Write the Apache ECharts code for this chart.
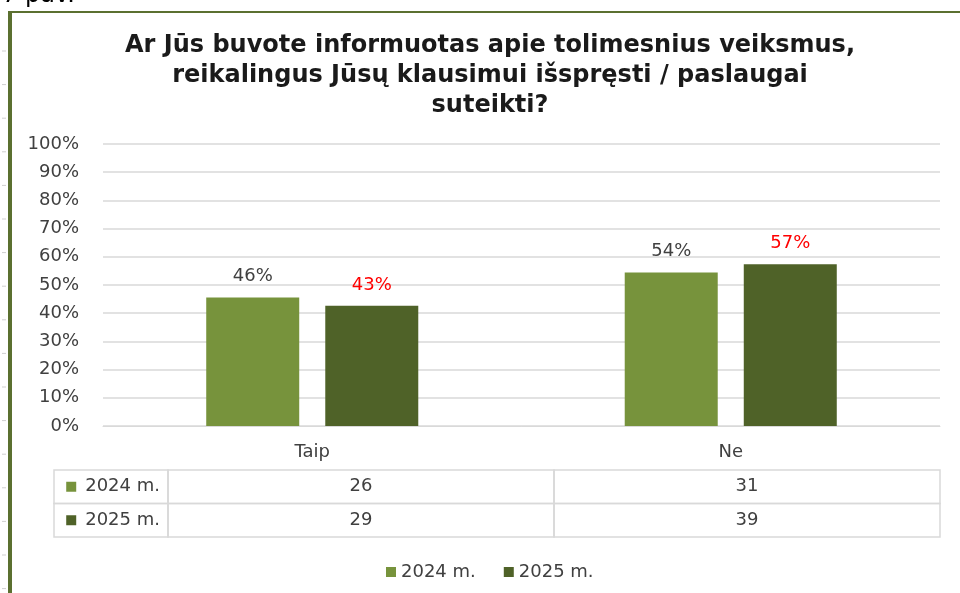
<!DOCTYPE html>
<html>
<head>
<meta charset="utf-8">
<script src="https://cdn.jsdelivr.net/npm/echarts@6/dist/echarts.min.js"></script>
<style>
  html, body { margin: 0; padding: 0; background: #fff; }
  #chart { width: 960px; height: 593px; }
</style>
</head>
<body>
<div id="chart"></div>
<script>
// data
const categories = ['Taip', 'Ne'];
const seriesNames = ['2024 m.', '2025 m.'];
const share2024 = [45.6, 54.4];
const share2025 = [42.6, 57.4];
const count2024 = [26, 31];
const count2025 = [29, 39];

const colors = ['#77933c', '#4f6228'];
const font = 'DejaVu Sans';

// table cells: [category index, row index, count]
const tableData = [];
[count2024, count2025].forEach((row, ri) => {
    row.forEach((v, ci) => tableData.push([ci, ri, v]));
});

function renderCell(params, api) {
    const c = api.coord([api.value(0), api.value(1)]);
    const s = api.size([1, 1]);
    const x0 = c[0] - s[0] / 2;
    const y0 = c[1] - s[1] / 2;
    const lineStyle = { fill: null, stroke: '#d9d9d9', lineWidth: 1.5 };
    const children = [
        { type: 'rect', shape: { x: x0, y: y0, width: s[0], height: s[1] }, style: lineStyle },
        { type: 'text', style: { x: c[0], y: c[1], text: String(api.value(2)), align: 'center', verticalAlign: 'middle', fill: '#404040', font: '18px "DejaVu Sans"' } }
    ];
    if (api.value(0) === 0) {
        // row header cell
        children.push({ type: 'rect', shape: { x: 54, y: y0, width: x0 - 54, height: s[1] }, style: lineStyle });
    }
    return { type: 'group', children: children };
}

const chart = echarts.init(document.getElementById('chart'));

const rulerTicks = [];
for (let y = 51; y < 593; y += 33.6) {
    rulerTicks.push({ type: 'line', shape: { x1: 2, y1: y, x2: 6, y2: y }, style: { stroke: '#cfcfcf', lineWidth: 1 } });
}

const option = {
    animation: false,
    textStyle: { fontFamily: font },
    title: {
        text: 'Ar Jūs buvote informuotas apie tolimesnius veiksmus,\nreikalingus Jūsų klausimui išspręsti / paslaugai\nsuteikti?',
        left: 485,
        textAlign: 'center',
        top: 26,
        textStyle: { fontFamily: font, fontSize: 24, fontWeight: 'bold', color: '#1a1a1a', lineHeight: 30 }
    },
    graphic: [
        { type: 'text', left: 2, top: -16, style: { text: '7 pav.', font: '24px "DejaVu Sans"', fill: '#000' } },
        { type: 'line', shape: { x1: 8, y1: 12, x2: 960, y2: 12 }, style: { stroke: '#5b7030', lineWidth: 2 } },
        { type: 'line', shape: { x1: 10, y1: 11, x2: 10, y2: 593 }, style: { stroke: '#5b7030', lineWidth: 4 } }
    ].concat(rulerTicks),
    legend: {
        data: seriesNames,
        left: 381,
        top: 558,
        icon: 'rect',
        itemWidth: 10,
        itemHeight: 10,
        itemGap: 28,
        textStyle: { fontFamily: font, fontSize: 18, color: '#404040' }
    },
    grid: [
        { left: 103, right: 20, top: 144, bottom: 167 },
        { left: 168, right: 20, top: 470, height: 67 }
    ],
    xAxis: [{
        type: 'category',
        data: categories,
        gridIndex: 0,
        axisLine: { lineStyle: { color: '#d9d9d9' } },
        axisTick: { show: false },
        axisLabel: { color: '#404040', fontSize: 18, margin: 17 }
    }, {
        type: 'category',
        data: categories,
        gridIndex: 1,
        show: false
    }],
    yAxis: [{
        type: 'value',
        gridIndex: 0,
        min: 0,
        max: 100,
        interval: 10,
        axisLine: { show: false },
        axisTick: { show: false },
        axisLabel: { formatter: '{value}%', color: '#404040', fontSize: 18, margin: 24 },
        splitLine: { lineStyle: { color: '#d9d9d9', width: 1.5 } }
    }, {
        type: 'category',
        data: seriesNames,
        gridIndex: 1,
        inverse: true,
        axisLine: { show: false },
        axisTick: { show: false },
        splitLine: { show: false },
        axisLabel: {
            margin: 8,
            formatter: (v, i) => '{s' + i + '|}{gap|}{t|' + v + '}',
            rich: {
                s0: { width: 10, height: 10, backgroundColor: colors[0] },
                s1: { width: 10, height: 10, backgroundColor: colors[1] },
                gap: { width: 9 },
                t: { fontSize: 18, color: '#404040', fontFamily: font }
            }
        }
    }],
    series: [{
        name: seriesNames[0],
        type: 'bar',
        data: share2024,
        barWidth: 93,
        barGap: '28%',
        itemStyle: { color: colors[0] },
        label: { show: true, position: 'top', distance: 12, fontSize: 18, color: '#404040', formatter: p => Math.round(p.value) + '%' }
    }, {
        name: seriesNames[1],
        type: 'bar',
        data: share2025,
        barWidth: 93,
        itemStyle: { color: colors[1] },
        label: { show: true, position: 'top', distance: 12, fontSize: 18, color: '#ff0000', formatter: p => Math.round(p.value) + '%' }
    }, {
        type: 'custom',
        xAxisIndex: 1,
        yAxisIndex: 1,
        clip: false,
        data: tableData,
        renderItem: renderCell
    }]
};

chart.setOption(option);
window.addEventListener('resize', chart.resize);
</script>
</body>
</html>
